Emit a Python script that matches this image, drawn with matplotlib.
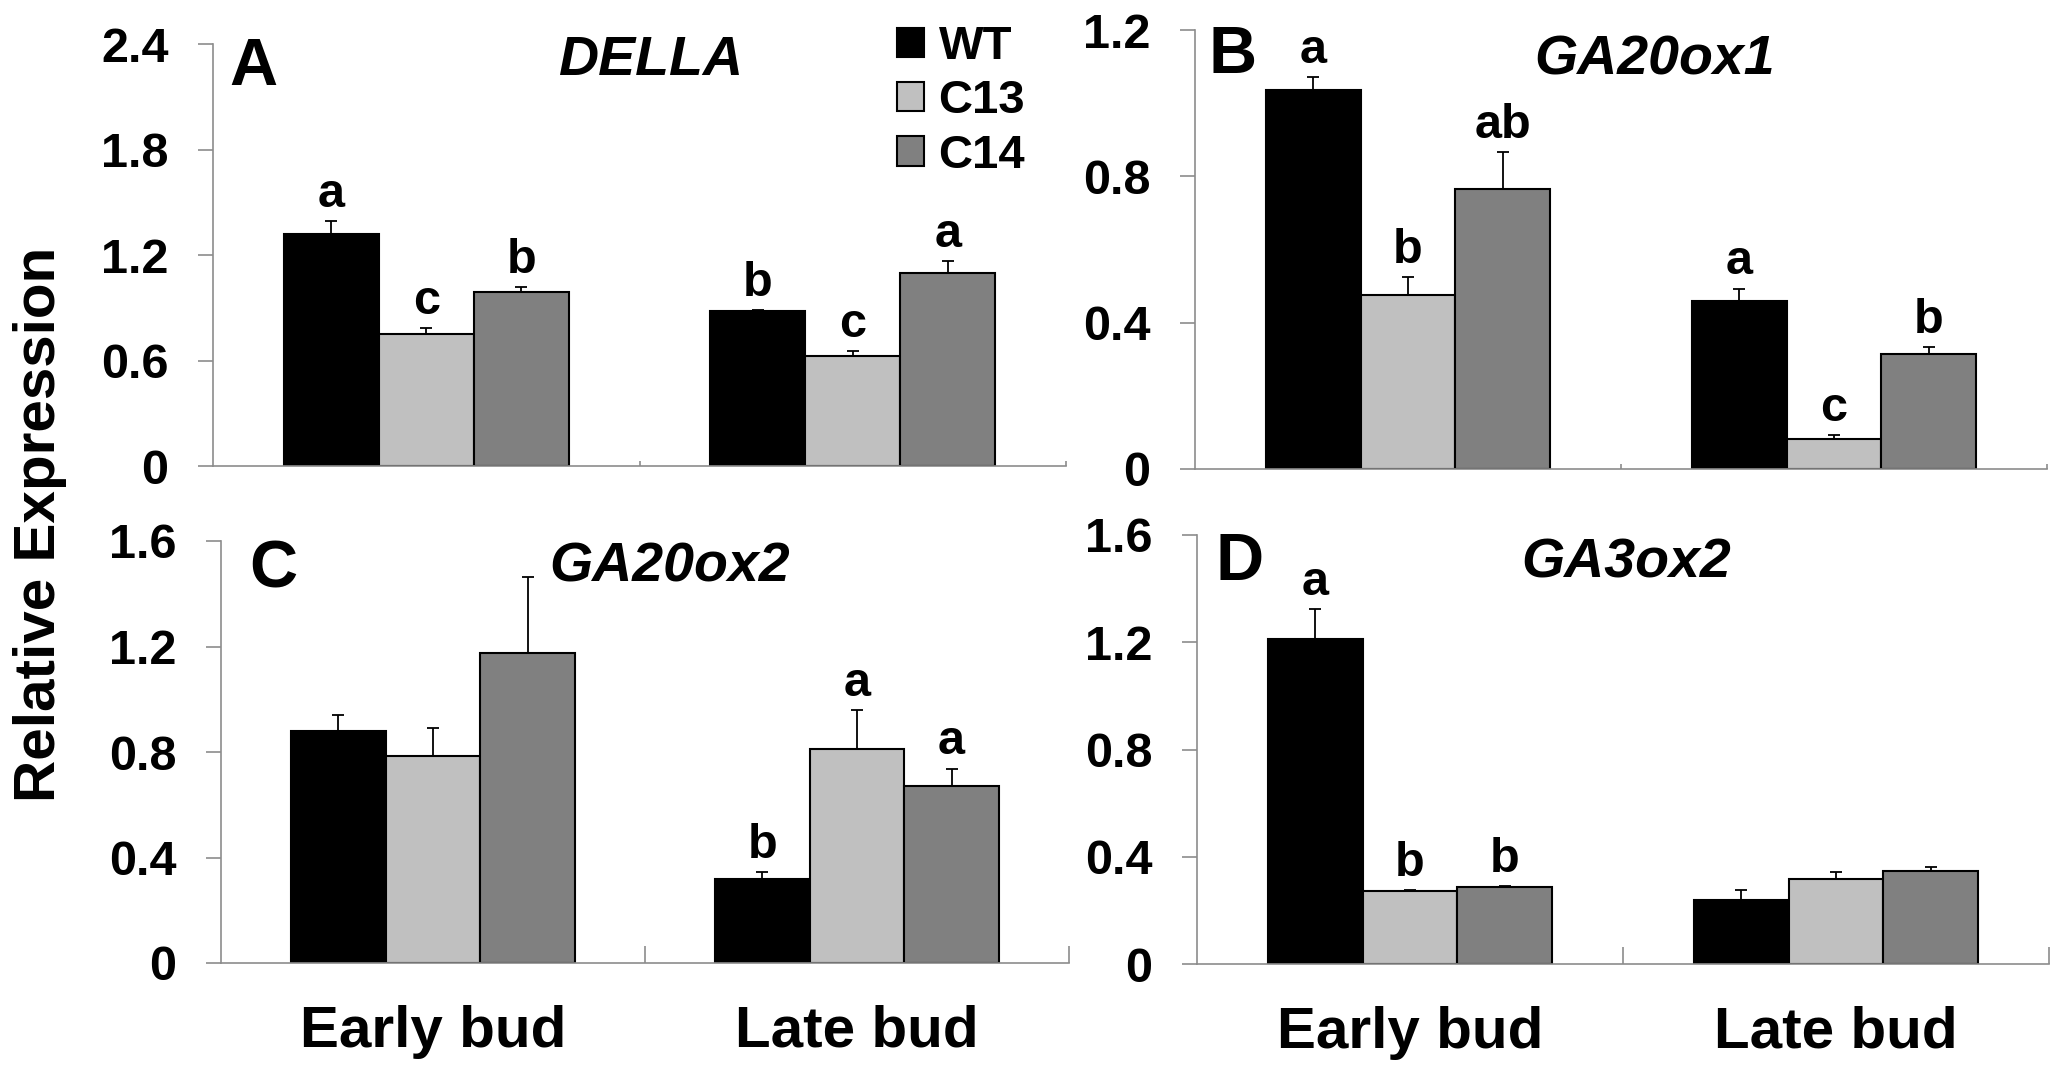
import numpy as np
import matplotlib
matplotlib.use("Agg")
import matplotlib.pyplot as plt
from matplotlib.patches import Patch
from matplotlib.ticker import FixedLocator

plt.rcParams['font.family'] = ['Liberation Sans', 'DejaVu Sans']
plt.rcParams['font.weight'] = 'bold'

# ---- data ----
stages = ['Early bud', 'Late bud']
lines = ['WT', 'C13', 'C14']
colors = ['#000000', '#c0c0c0', '#808080']

della_mean = {'WT': [1.32, 0.88], 'C13': [0.75, 0.625], 'C14': [0.99, 1.095]}
della_err = {'WT': [0.074, 0.006], 'C13': [0.034, 0.03], 'C14': [0.027, 0.07]}
della_let = {'WT': ['a', 'b'], 'C13': ['c', 'c'], 'C14': ['b', 'a']}

ga20ox1_mean = {'WT': [1.035, 0.459], 'C13': [0.475, 0.083], 'C14': [0.766, 0.315]}
ga20ox1_err = {'WT': [0.036, 0.034], 'C13': [0.05, 0.009], 'C14': [0.10, 0.018]}
ga20ox1_let = {'WT': ['a', 'a'], 'C13': ['b', 'c'], 'C14': ['ab', 'b']}

ga20ox2_mean = {'WT': [0.878, 0.319], 'C13': [0.786, 0.810], 'C14': [1.174, 0.672]}
ga20ox2_err = {'WT': [0.062, 0.026], 'C13': [0.105, 0.15], 'C14': [0.29, 0.065]}
ga20ox2_let = {'WT': ['', 'b'], 'C13': ['', 'a'], 'C14': ['', 'a']}

ga3ox2_mean = {'WT': [1.212, 0.238], 'C13': [0.272, 0.316], 'C14': [0.286, 0.346]}
ga3ox2_err = {'WT': [0.112, 0.039], 'C13': [0.004, 0.027], 'C14': [0.005, 0.015]}
ga3ox2_let = {'WT': ['a', ''], 'C13': ['b', ''], 'C14': ['b', '']}

yticks_A = [0, 0.6, 1.2, 1.8, 2.4]
yticks_B = [0, 0.4, 0.8, 1.2]
yticks_C = [0, 0.4, 0.8, 1.2, 1.6]
yticks_D = [0, 0.4, 0.8, 1.2, 1.6]

W, H = 2055, 1068
fig = plt.figure(figsize=(W / 100, H / 100), dpi=100)


def rect(l, r, b, t):
    return [l / W, 1 - b / H, (r - l) / W, (b - t) / H]


panels = [
    dict(pos=rect(213, 1066, 466, 44), mean=della_mean, err=della_err, let=della_let,
         yt=yticks_A, gene='DELLA', letter='A', lpos=(253, 85), gpos=(651, 75),
         xlab=False, xtl=5),
    dict(pos=rect(1195, 2047, 469, 30), mean=ga20ox1_mean, err=ga20ox1_err, let=ga20ox1_let,
         yt=yticks_B, gene='GA20ox1', letter='B', lpos=(1233, 73), gpos=(1655, 74),
         xlab=False, xtl=5),
    dict(pos=rect(221, 1069, 963, 541), mean=ga20ox2_mean, err=ga20ox2_err, let=ga20ox2_let,
         yt=yticks_C, gene='GA20ox2', letter='C', lpos=(273, 587), gpos=(670, 582),
         xlab=True, xtl=17),
    dict(pos=rect(1197, 2049, 964, 535), mean=ga3ox2_mean, err=ga3ox2_err, let=ga3ox2_let,
         yt=yticks_D, gene='GA3ox2', letter='D', lpos=(1240, 580), gpos=(1626, 578),
         xlab=True, xtl=17),
]

bw = 0.223
x = np.arange(len(stages))
spine_col = '#8c8c8c'

for p in panels:
    ax = fig.add_axes(p['pos'])
    for i, ln in enumerate(lines):
        xs = x + (i - 1) * bw
        m = np.array(p['mean'][ln])
        e = np.array(p['err'][ln])
        ax.bar(xs, m, width=bw, color=colors[i], edgecolor='black', linewidth=1.5, zorder=2)
        ax.errorbar(xs, m, yerr=[np.zeros_like(e), e], fmt='none', ecolor='black',
                    elinewidth=1.3, capsize=4, capthick=1.3, zorder=3)
        for xi, mi, ei, lt in zip(xs, m, e, p['let'][ln]):
            if lt:
                ax.annotate(lt, (xi, mi + ei), xytext=(0, 3), textcoords='offset points',
                            ha='center', va='bottom', fontsize=35, fontweight='bold',
                            annotation_clip=False)
    ax.set_xlim(-0.5, 1.5)
    ax.set_ylim(0, p['yt'][-1])
    ax.set_yticks(p['yt'])
    ax.set_yticklabels(['0'] + ['%.1f' % v for v in p['yt'][1:]])
    ax.set_xticks(x)
    if p['xlab']:
        ax.set_xticklabels(stages, fontsize=42, fontweight='bold')
    else:
        ax.set_xticklabels(['', ''])
    ax.xaxis.set_minor_locator(FixedLocator([0.5, 1.5]))
    ax.tick_params(axis='x', which='major', length=0, pad=30)
    ax.tick_params(axis='x', which='minor', direction='in', length=p['xtl'] * 0.72,
                   width=1.2, color=spine_col)
    ax.tick_params(axis='y', direction='out', length=11, width=1.2, color=spine_col,
                   labelsize=35, pad=21)
    for lab in ax.get_yticklabels():
        lab.set_fontweight('bold')
    for s in ['top', 'right']:
        ax.spines[s].set_visible(False)
    for s in ['left', 'bottom']:
        ax.spines[s].set_color(spine_col)
        ax.spines[s].set_linewidth(1.2)
    ax.spines['bottom'].set_zorder(4)
    fig.text(p['lpos'][0] / W, 1 - p['lpos'][1] / H, p['letter'], ha='center',
             va='baseline', fontsize=48, fontweight='bold')
    fig.text(p['gpos'][0] / W, 1 - p['gpos'][1] / H, p['gene'], ha='center',
             va='baseline', fontsize=40, fontweight='bold', fontstyle='italic')

fig.text(40 / W, 1 - 524 / H, 'Relative Expression', rotation=90, ha='center',
         va='center', fontsize=42, fontweight='bold')

handles = [Patch(facecolor=c, edgecolor='black', linewidth=1.5) for c in colors]
fig.legend(handles, lines, loc='upper left', bbox_to_anchor=(897 / W, 1 - 25 / H),
           frameon=False, prop={'weight': 'bold', 'size': 34},
           handlelength=0.58, handleheight=0.58, handletextpad=0.3,
           labelspacing=0.22, borderpad=0, borderaxespad=0)

fig.savefig('out.png', dpi=100)
